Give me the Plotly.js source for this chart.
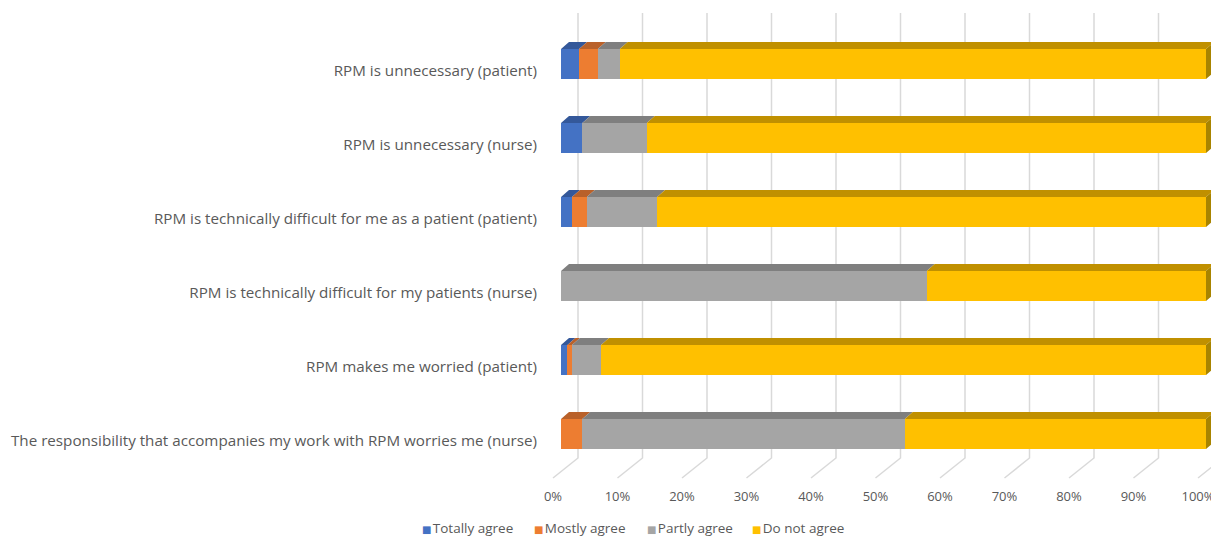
<!DOCTYPE html>
<html><head><meta charset="utf-8">
<script src="https://cdn.plot.ly/plotly-3.0.1.min.js"></script>
<style>html,body{margin:0;padding:0;background:#fff;}#chart{width:1211px;height:536px;}</style>
</head><body><div id="chart"></div>
<script>
// ---- data ----
const categories = [
  "RPM is unnecessary (patient)",
  "RPM is unnecessary (nurse)",
  "RPM is technically difficult for me as a patient (patient)",
  "RPM is technically difficult for my patients (nurse)",
  "RPM makes me worried (patient)",
  "The responsibility that accompanies my work with RPM worries me (nurse)"
];
const seriesNames = ["Totally agree", "Mostly agree", "Partly agree", "Do not agree"];
const totallyAgree = [2.8, 3.3, 1.7, 0, 1.0, 0];
const mostlyAgree  = [2.9, 0, 2.3, 0, 0.7, 3.3];
const partlyAgree  = [3.4, 10.0, 10.9, 56.7, 4.5, 50.0];
const doNotAgree   = [90.9, 86.7, 85.1, 43.3, 93.8, 46.7];
const xTicks = [0, 10, 20, 30, 40, 50, 60, 70, 80, 90, 100];
const xTickLabels = xTicks.map(t => t + "%");

// ---- styling / geometry ----
const W = 1211, H = 536;
const PX = 6.45, X0 = 561;        // px per % and px of 0%
const ROW = 74, Y0 = 64;          // px per row and px of first row centre
const BARW = 30 / ROW;
const DX = 8 / PX, DY = 7 / ROW;  // 3D depth of the bars
const BACK = 17 / PX, FRONT = 8 / PX;
const yPx = p => (p - Y0) / ROW;
const FONT = "'Open Sans', 'Liberation Sans', sans-serif";
const frontColors = ["#4472C4", "#ED7D31", "#A5A5A5", "#FFC000"];
const topColors   = ["#34589A", "#B9612A", "#7F7F7F", "#C09000"];
const sideColor = "#A88400";
const legendLeft = [420, 532, 645, 750];
const series = [totallyAgree, mostlyAgree, partlyAgree, doNotAgree];
const idx = categories.map((c, i) => i);

const traces = [];
series.forEach((vals, s) => {
  traces.push({
    type: "bar", orientation: "h", name: seriesNames[s],
    x: vals, y: idx, width: BARW,
    marker: {color: frontColors[s], line: {width: 0}},
    showlegend: false, hoverinfo: "x+name"
  });
});
// top faces
const cum = idx.map(() => 0);
series.forEach((vals, s) => {
  const xs = [], ys = [];
  vals.forEach((v, i) => {
    const x0 = cum[i], x1 = cum[i] + v;
    cum[i] = x1;
    if (v <= 0) return;
    const yt = i - BARW / 2;
    xs.push(x0, x1, x1 + DX, x0 + DX, x0, null);
    ys.push(yt, yt, yt - DY, yt - DY, yt, null);
  });
  traces.push({type: "scatter", mode: "lines", x: xs, y: ys, fill: "toself",
    fillcolor: topColors[s], line: {width: 0, color: topColors[s]},
    showlegend: false, hoverinfo: "skip"});
});
// right end faces
{
  const xs = [], ys = [];
  idx.forEach(i => {
    const e = cum[i], yt = i - BARW / 2, yb = i + BARW / 2;
    xs.push(e, e, e + DX, e + DX, e, null);
    ys.push(yb, yt, yt - DY, yb - DY, yb, null);
  });
  traces.push({type: "scatter", mode: "lines", x: xs, y: ys, fill: "toself",
    fillcolor: sideColor, line: {width: 0, color: sideColor},
    showlegend: false, hoverinfo: "skip"});
}

// gridlines (back wall + floor)
const shapes = xTicks.map(t => ({
  type: "path", xref: "x", yref: "y", layer: "below",
  path: `M ${t + BACK},${yPx(13)} L ${t + BACK},${yPx(458)} L ${t - FRONT},${yPx(478)}`,
  line: {color: "#D9D9D9", width: 1.5}
}));

// legend (swatch + label as text)
const annotations = seriesNames.map((n, s) => ({
  xref: "paper", yref: "paper", x: legendLeft[s] / W, y: (H - 528) / H,
  xanchor: "left", yanchor: "middle", showarrow: false,
  text: `<span style="color:${frontColors[s]};font-family:'DejaVu Sans';font-size:10px">■</span><span style="font-size:5px">\u00A0</span>${n}`,
  font: {family: FONT, size: 13.5, color: "#595959"}
}));

const layout = {
  width: W, height: H,
  margin: {l: 0, r: 0, t: 0, b: 0},
  paper_bgcolor: "#fff", plot_bgcolor: "rgba(0,0,0,0)",
  barmode: "stack", bargap: 0,
  showlegend: false,
  font: {family: FONT, color: "#595959"},
  xaxis: {
    domain: [0, 1], range: [-X0 / PX, (W - X0) / PX],
    showgrid: false, zeroline: false, showline: false,
    tickmode: "array", tickvals: xTicks.map(t => t - FRONT), ticktext: xTickLabels,
    ticks: "", tickfont: {size: 13, color: "#595959"}, ticklabeloverflow: "allow",
    anchor: "free", position: (H - 487) / H
  },
  yaxis: {
    domain: [0, 1], range: [(H - Y0) / ROW, -Y0 / ROW],
    showgrid: false, zeroline: false, showline: false,
    tickmode: "array", tickvals: idx.map(i => i + 7 / ROW), ticktext: categories,
    ticks: "", tickfont: {size: 15.2, color: "#595959"},
    anchor: "free", position: 537 / W
  },
  annotations: annotations,
  shapes: shapes
};

Plotly.newPlot("chart", traces, layout, {displayModeBar: false, staticPlot: true});
</script>
</body></html>
